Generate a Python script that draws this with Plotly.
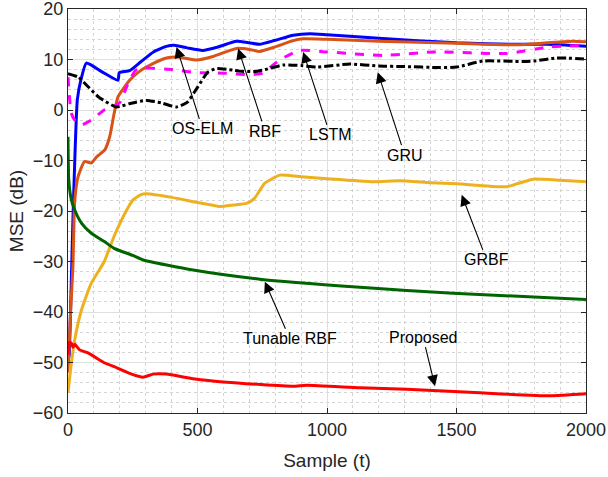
import plotly.graph_objects as go

# OS-ELM (blue)
oselm_x = [0, 4, 20, 36, 50, 71, 130, 193, 198, 238, 280, 330, 380, 410, 460, 520, 580, 650, 700, 740, 800, 870, 934, 1000, 1200, 1500, 1732, 1850, 2000]
oselm_y = [-45, -49, -20, 2, 6, 9.3, 7.6, 5.9, 7.4, 7.8, 9.5, 11.5, 12.6, 12.8, 12.3, 11.8, 12.5, 13.6, 13.3, 13.0, 13.8, 14.8, 15.1, 14.9, 14.2, 13.3, 13.0, 13.0, 12.6]

# RBF (orange)
rbf_x = [0, 10, 19, 26, 39, 64, 90, 110, 142, 161, 178, 193, 238, 280, 328, 380, 419, 460, 496, 560, 650, 700, 740, 800, 860, 907, 1000, 1200, 1500, 1732, 1850, 1950, 2000]
rbf_y = [-52, -40, -31, -18, -13.2, -10.2, -10.5, -9.3, -7.9, -5.3, -0.7, 2.6, 5.9, 7.8, 9.2, 10.3, 10.5, 10.2, 9.9, 10.6, 12.2, 12.0, 11.6, 12.5, 13.6, 14.1, 14.0, 13.6, 13.2, 12.9, 13.3, 13.6, 13.5]

# LSTM (magenta dashed)
lstm_x = [0, 5, 12, 26, 50, 90, 140, 168, 200, 230, 260, 300, 400, 500, 600, 700, 750, 820, 895, 1000, 1217, 1410, 1694, 1861, 2000]
lstm_y = [6.5, 3, -0.5, -2, -3, -2, 0, 0.5, 1.5, 5, 7.8, 8.3, 8.0, 7.4, 7.3, 7.0, 7.3, 10, 11.8, 11.5, 10.8, 11.5, 11.2, 12.5, 12.8]

# GRU (black dash-dot)
gru_x = [0, 40, 80, 120, 187, 240, 303, 360, 419, 460, 500, 540, 573, 637, 663, 716, 760, 830, 900, 960, 1088, 1200, 1300, 1434, 1500, 1603, 1755, 1800, 1887, 2000]
gru_y = [7.2, 6.5, 4.5, 2.5, 0.6, 1.3, 1.9, 1.4, 0.6, 1.5, 4.5, 7.5, 8.2, 7.9, 7.7, 7.6, 8.0, 8.9, 8.8, 8.5, 9.1, 8.7, 8.6, 8.4, 8.5, 9.7, 9.6, 9.7, 10.3, 10.1]

# GRBF (yellow)
grbf_x = [0, 13, 26, 52, 90, 140, 178, 200, 230, 251, 280, 303, 400, 500, 586, 640, 689, 720, 760, 818, 900, 1000, 1178, 1281, 1400, 1500, 1694, 1740, 1796, 1900, 2000]
grbf_y = [-56, -50.1, -45.5, -39.6, -34.3, -30, -25, -22.5, -19.5, -17.8, -16.8, -16.6, -17.3, -18.3, -19.1, -18.8, -18.5, -17.5, -14.5, -12.9, -13.2, -13.6, -14.2, -14.0, -14.4, -14.6, -15.2, -14.5, -13.7, -13.9, -14.2]

# Tunable RBF (green)
trbf_x = [0, 3, 13, 26, 52, 90, 142, 178, 250, 290, 483, 740, 1127, 1487, 2000]
trbf_y = [-5.3, -13.9, -17.8, -19.8, -22.4, -24.4, -26.1, -27.4, -28.8, -29.7, -31.7, -33.5, -35.1, -36.3, -37.5]

# Proposed (red)
prop_x = [0, 5, 13, 19, 26, 45, 77, 142, 178, 251, 290, 328, 380, 483, 612, 869, 920, 1127, 1307, 1590, 1861, 2000]
prop_y = [-48.5, -46, -46.2, -47, -46.4, -47.5, -48.1, -50.1, -50.8, -52.4, -52.9, -52.3, -52.3, -53.2, -53.9, -54.7, -54.5, -55, -55.3, -56, -56.6, -56.2]

x_ticks = [0, 500, 1000, 1500, 2000]
y_ticks = [-60, -50, -40, -30, -20, -10, 0, 10, 20]

# annotation labels with arrow tips (data coords)
ann_text = ["OS-ELM", "RBF", "LSTM", "GRU", "GRBF", "Tunable RBF", "Proposed"]
ann_tip_x = [419, 657, 908, 1196, 1520, 760, 1417]
ann_tip_y = [12.5, 12.2, 11.5, 7.5, -16.8, -34.0, -54.7]
ann_off_x = [26, 27, 27, 27, 25, 25, -12]
ann_off_y = [82, 83, 83, 83, 65, 57, -49]

series = [
    (oselm_x, oselm_y, "#0000FF", "solid", "OS-ELM"),
    (rbf_x, rbf_y, "#D95319", "solid", "RBF"),
    (lstm_x, lstm_y, "#FF00FF", "dash", "LSTM"),
    (gru_x, gru_y, "#000000", "dashdot", "GRU"),
    (grbf_x, grbf_y, "#EDB120", "solid", "GRBF"),
    (trbf_x, trbf_y, "#006400", "solid", "Tunable RBF"),
    (prop_x, prop_y, "#FF0000", "solid", "Proposed"),
]

fig = go.Figure()
for xs, ys, col, dash, name in series:
    fig.add_trace(go.Scatter(x=xs, y=ys, mode="lines", name=name,
                             line=dict(color=col, width=3, dash=dash, shape="spline", smoothing=0.5)))

font_family = "Liberation Sans, Arial, sans-serif"
for t, tx, ty, ox, oy in zip(ann_text, ann_tip_x, ann_tip_y, ann_off_x, ann_off_y):
    fig.add_annotation(x=tx, y=ty, text=t, showarrow=True, ax=ox, ay=oy,
                       arrowhead=2, arrowsize=2.0, arrowwidth=1.1, arrowcolor="#000000",
                       font=dict(family=font_family, size=16, color="#000000"))

axis_common = dict(
    showline=True, linecolor="#262626", linewidth=1, mirror="ticks",
    ticks="inside", ticklen=5, tickcolor="#262626",
    showgrid=True, gridcolor="#DFDFDF", gridwidth=1,
    zeroline=False, automargin=False, ticklabeloverflow="allow",
    tickfont=dict(family=font_family, size=18, color="#262626"),
)

fig.update_xaxes(range=[0, 2000], tickvals=x_ticks, **axis_common,
                 minor=dict(dtick=100, showgrid=True, gridcolor="#D4D4D4", griddash="dot", gridwidth=1, ticks=""),
                 title=dict(text="Sample (t)", font=dict(family=font_family, size=19, color="#262626"), standoff=15))
fig.update_yaxes(range=[-60, 20], tickvals=y_ticks, **axis_common,
                 minor=dict(dtick=2, showgrid=True, gridcolor="#D4D4D4", griddash="dot", gridwidth=1, ticks=""),
                 title=dict(text="MSE (dB)", font=dict(family=font_family, size=19, color="#262626"), standoff=4))

fig.update_layout(width=608, height=477, margin=dict(l=68, r=22, t=9, b=64),
                  plot_bgcolor="white", paper_bgcolor="white", showlegend=False)

fig.write_html("out.html")
